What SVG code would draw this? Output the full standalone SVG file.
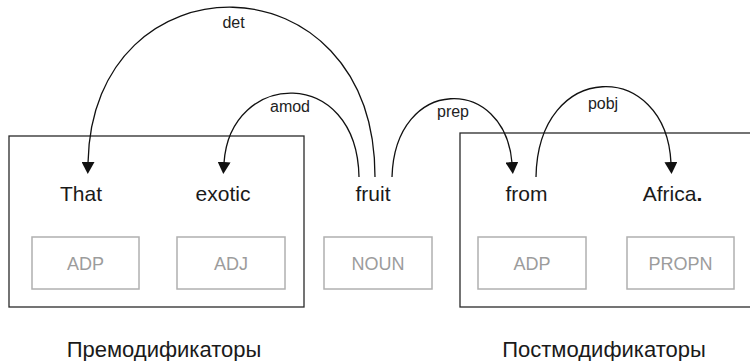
<svg xmlns="http://www.w3.org/2000/svg" width="750" height="361" viewBox="0 0 750 361">
<style>
.grp{fill:none;stroke:#2a2a2a;stroke-width:1.3}
.pos{fill:#fff;stroke:#b0b0b0;stroke-width:1.5}
.word{font-family:"Liberation Sans",Arial,sans-serif;font-size:21px;fill:#1a1a1a;text-anchor:middle}
.tag{font-family:"Liberation Sans",Arial,sans-serif;font-size:18px;fill:#9c9c9c;text-anchor:middle}
.lbl{font-family:"Liberation Sans",Arial,sans-serif;font-size:16px;fill:#222;text-anchor:middle}
.cap{font-family:"Liberation Sans",Arial,sans-serif;font-size:22px;fill:#1a1a1a;text-anchor:middle}
.arc{fill:none;stroke:#111;stroke-width:1.3;marker-end:url(#arr)}
</style>
<defs>
<marker id="arr" viewBox="0 0 12 13" refX="1" refY="6.5" markerWidth="12" markerHeight="13" markerUnits="userSpaceOnUse" orient="auto">
<path d="M0,0 L12,6.5 L0,13 z" fill="#111"/>
</marker>
</defs>
<rect width="750" height="361" fill="#fff"/>
<g id="premod">
<rect class="grp" x="9" y="136" width="295" height="171"/>
<text class="cap" x="164" y="357">Премодификаторы</text>
</g>
<g id="postmod">
<rect class="grp" x="460" y="133" width="300" height="174"/>
<text class="cap" x="604" y="357">Постмодификаторы</text>
</g>
<g id="n-that">
<text class="word" x="81" y="201">That</text>
<rect class="pos" x="32" y="237" width="107" height="52"/>
<text class="tag" x="85.5" y="270">ADP</text>
</g>
<g id="n-exotic">
<text class="word" x="223" y="201">exotic</text>
<rect class="pos" x="177" y="237" width="108" height="52"/>
<text class="tag" x="231" y="270">ADJ</text>
</g>
<g id="n-fruit">
<text class="word" x="373" y="201">fruit</text>
<rect class="pos" x="324" y="237" width="108" height="52"/>
<text class="tag" x="378" y="270">NOUN</text>
</g>
<g id="n-from">
<text class="word" x="526.5" y="201">from</text>
<rect class="pos" x="478" y="237" width="108" height="52"/>
<text class="tag" x="532" y="270">ADP</text>
</g>
<g id="n-africa">
<text class="word" x="672.5" y="201">Africa<tspan font-weight="bold">.</tspan></text>
<rect class="pos" x="627" y="237" width="107" height="52"/>
<text class="tag" x="680.5" y="270">PROPN</text>
</g>
<g id="connectors">
<path class="arc" d="M375,177 C375,-47 92,-47 88,163"/>
<path class="arc" d="M359,177 C357,65 230,70 224,163"/>
<path class="arc" d="M392,177 C395,75 505,75 512,163"/>
<path class="arc" d="M536,177 C538,59 666,59 671,163"/>
<text class="lbl" x="233.5" y="28">det</text>
<text class="lbl" x="290" y="112">amod</text>
<text class="lbl" x="453" y="117">prep</text>
<text class="lbl" x="603" y="109">pobj</text>
</g>
</svg>
